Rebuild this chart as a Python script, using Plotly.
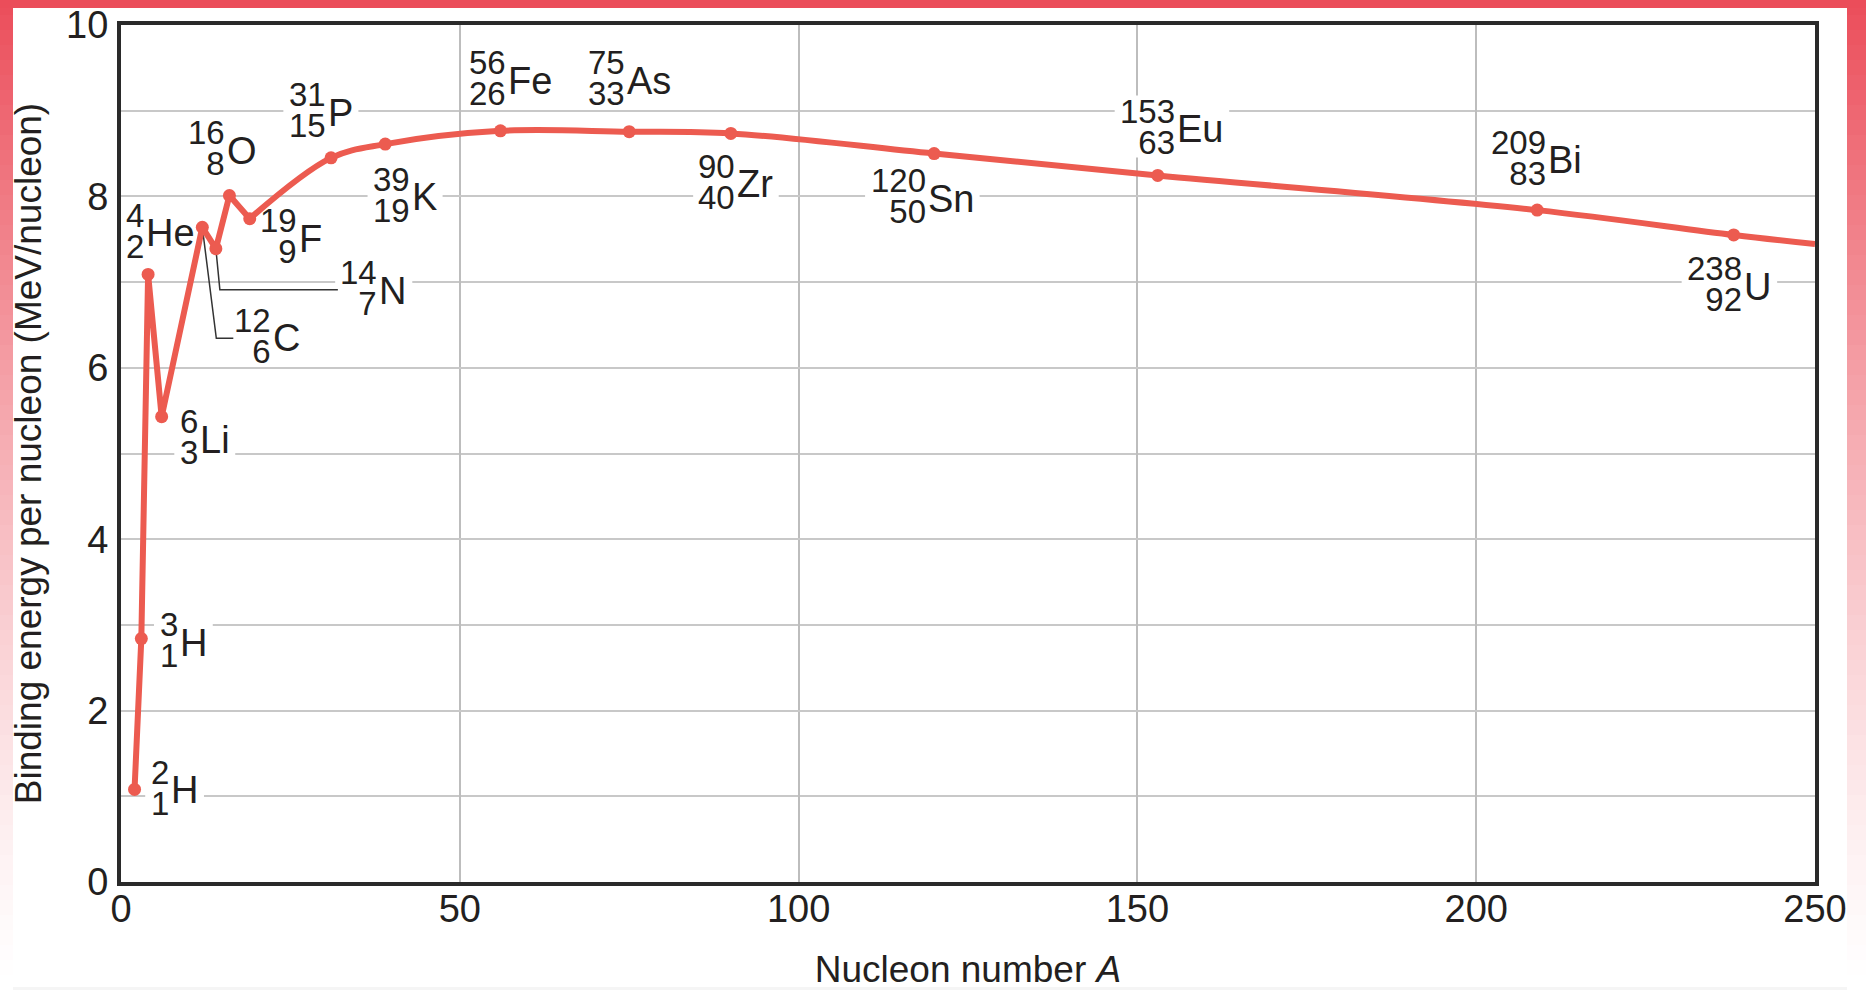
import plotly.graph_objects as go

# ---------------- data ----------------
nucleon_number = [2, 3, 4, 6, 12, 14, 16, 19, 31, 39, 56, 75, 90, 120, 153, 209, 238]
atomic_number = [1, 1, 2, 3, 6, 7, 8, 9, 15, 19, 26, 33, 40, 50, 63, 83, 92]
element_symbol = ["H", "H", "He", "Li", "C", "N", "O", "F", "P", "K",
                  "Fe", "As", "Zr", "Sn", "Eu", "Bi", "U"]
binding_energy = [1.08, 2.84, 7.09, 5.43, 7.64, 7.39, 8.01, 7.74, 8.45, 8.61,
                  8.765, 8.755, 8.735, 8.50, 8.245, 7.84, 7.55]
curve_end_A = 250
curve_end_energy = 7.445
x_ticks = [0, 50, 100, 150, 200, 250]
y_ticks = [0, 2, 4, 6, 8, 10]

# ---------------- label placement (px offsets from each point, screen y down) ----------------
# (left edge of the element symbol, vertical centre of the symbol)
label_offset = [(37, 1), (39, 4), (-2, -41), (39, 23), (71, 111), (164, 42), (-2, -45),
                (50, 20), (-3, -45), (27, 53), (8, -50), (-2, -51), (7, 51), (-6, 45),
                (20, -46), (11, -50), (11, 52)]
label_gap = [True, True, False, True, True, True, False, False, True, True,
             False, False, True, True, True, False, True]
leader_paths = {4: [(0, 0), (14, 111), (31, 111)], 5: [(0, 0), (4, 41), (122, 41)]}
symbol_em = {"H": .722, "He": 1.278, "Li": .778, "C": .722, "N": .722, "O": .778, "F": .611,
             "P": .667, "K": .667, "Fe": 1.167, "As": 1.167, "Zr": .944, "Sn": 1.223,
             "Eu": 1.223, "Bi": .889, "U": .722}

# ---------------- styles ----------------
W, H = 1866, 990
ML, MR, MT, MB = 121, 51, 25, 108
CURVE = "#EC5B50"
TEXT = "#231F20"
FONT = "Liberation Sans, Arial, sans-serif"
SYM_SIZE, NUM_SIZE = 38, 33
GRID_Y = "#C8C8C8"

fig = go.Figure()

n_straight = 8  # straight segments up to 19F, smooth afterwards
fig.add_trace(go.Scatter(x=nucleon_number[:n_straight], y=binding_energy[:n_straight],
                         mode="lines", line=dict(color=CURVE, width=6), hoverinfo="skip"))
fig.add_trace(go.Scatter(x=nucleon_number[n_straight - 1:] + [curve_end_A],
                         y=binding_energy[n_straight - 1:] + [curve_end_energy],
                         mode="lines", line=dict(color=CURVE, width=6, shape="spline", smoothing=1.0),
                         hoverinfo="skip"))
fig.add_trace(go.Scatter(x=nucleon_number, y=binding_energy, mode="markers",
                         marker=dict(color=CURVE, size=13), hoverinfo="skip"))

annotations = []
shapes = []
for i, (a, z, sym, e) in enumerate(zip(nucleon_number, atomic_number, element_symbol, binding_energy)):
    dx, dy = label_offset[i]
    common = dict(x=a, y=e, xref="x", yref="y", showarrow=False, borderpad=0)
    annotations.append(dict(common, text=sym, xanchor="left", yanchor="middle",
                            xshift=dx - 1.5, yshift=-dy,
                            font=dict(family=FONT, size=SYM_SIZE, color=TEXT)))
    stack = (f"<span style='font-size:{NUM_SIZE}px'>{a}</span><br>"
             f"<span style='font-size:{NUM_SIZE}px'>{z}</span>")
    annotations.append(dict(common, text=stack, xanchor="right", yanchor="middle", align="right",
                            xshift=dx - 1.5, yshift=-(dy - 2.5),
                            font=dict(family=FONT, size=24, color=TEXT)))
    if label_gap[i]:
        num_w = 0.556 * NUM_SIZE * max(len(str(a)), len(str(z)))
        sym_w = symbol_em[sym] * SYM_SIZE
        shapes.append(dict(type="rect", xref="x", yref="y", xsizemode="pixel", ysizemode="pixel",
                           xanchor=a, yanchor=e,
                           x0=dx - 3 - num_w - 5, x1=dx + sym_w + 5,
                           y0=-(dy + 28), y1=-(dy - 34),
                           fillcolor="white", line=dict(width=0), layer="between"))

for idx, pts in leader_paths.items():
    path = "M" + " L".join(f"{px},{-py}" for px, py in pts)
    shapes.append(dict(type="path", path=path, xref="x", yref="y",
                       xsizemode="pixel", ysizemode="pixel",
                       xanchor=nucleon_number[idx], yanchor=binding_energy[idx],
                       line=dict(color="#333333", width=1.5), layer="between"))

# decorative slide frame (red gradient bands)
pw, ph = W - ML - MR, H - MT - MB
def px2x(p): return (p - ML) / pw
def py2y(p): return (H - MB - p) / ph
red = (235, 77, 90)
def mix(alpha):
    return "rgb(%d,%d,%d)" % tuple(round(255 - alpha * (255 - c)) for c in red)
step = 15
for y0 in range(0, H, step):
    yc = y0 + step / 2
    alpha = max(0.0, 1 - yc / 990) ** 1.3
    col = mix(alpha)
    for xa, xb in ((0, 13), (1847, W)):
        shapes.append(dict(type="rect", xref="paper", yref="paper", x0=px2x(xa), x1=px2x(xb),
                           y0=py2y(y0 + step + 0.5), y1=py2y(y0), fillcolor=col,
                           line=dict(width=0), layer="below"))
shapes.append(dict(type="rect", xref="paper", yref="paper", x0=px2x(0), x1=px2x(W),
                   y0=py2y(8), y1=py2y(0), fillcolor=mix(1.0), line=dict(width=0), layer="below"))
shapes.append(dict(type="rect", xref="paper", yref="paper", x0=px2x(13), x1=px2x(1847),
                   y0=py2y(H), y1=py2y(987), fillcolor="#F5F5F5", line=dict(width=0), layer="below"))

fig.update_layout(
    width=W, height=H, margin=dict(l=ML, r=MR, t=MT, b=MB, pad=0, autoexpand=False),
    paper_bgcolor="white", plot_bgcolor="white", showlegend=False,
    font=dict(family=FONT, color=TEXT),
    annotations=annotations, shapes=shapes,
    xaxis=dict(range=[0, 250], tickmode="array", tickvals=x_ticks, ticktext=[str(v) for v in x_ticks],
               showgrid=True, gridcolor="#BDBDBD", gridwidth=1.6, zeroline=False, automargin=False,
               showline=True, mirror=True, linecolor="#2A2A2A", linewidth=4, ticks="",
               tickfont=dict(family=FONT, size=38, color=TEXT), ticklabelstandoff=-10,
               title=dict(text="Nucleon number <i>A</i>", font=dict(family=FONT, size=37, color=TEXT),
                          standoff=42)),
    yaxis=dict(range=[0, 10], tickmode="array", tickvals=y_ticks, ticktext=[str(v) for v in y_ticks],
               showgrid=True, gridcolor=GRID_Y, gridwidth=2.4, zeroline=False, automargin=False,
               minor=dict(tick0=0, dtick=1, showgrid=True, gridcolor=GRID_Y, gridwidth=2.4),
               showline=True, mirror=True, linecolor="#2A2A2A", linewidth=4, ticks="",
               tickfont=dict(family=FONT, size=38, color=TEXT), ticklabelstandoff=1,
               title=dict(text="Binding energy per nucleon (MeV/nucleon)",
                          font=dict(family=FONT, size=37, color=TEXT), standoff=14)),
)

fig.write_html("out.html", config={"displayModeBar": False},
               post_script="document.body.style.margin='0px';document.body.style.padding='0px';"
                           "document.documentElement.style.overflow='hidden';")
